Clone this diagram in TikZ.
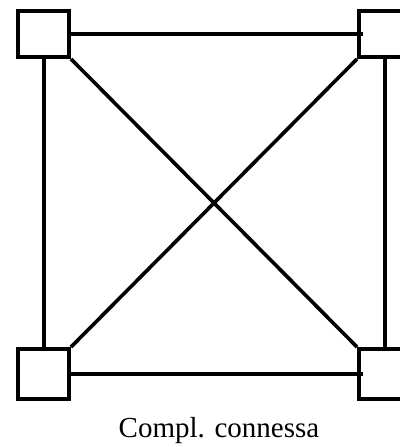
\documentclass[tikz,border=0pt]{standalone}
\usepackage{fontspec}
\setmainfont{Liberation Serif}
\usepackage{tikz}
\usetikzlibrary{positioning,calc}
\tikzset{
  vertexbox/.style={draw=black,line width=4pt,fill=white,inner sep=0pt,
    minimum width=51pt,minimum height=46pt},
  edge/.style={line width=4pt,draw=black},
  diagedge/.style={line width=3.6pt,draw=black},
  caption/.style={font=\fontsize{29}{32}\selectfont,inner sep=0pt,anchor=base}
}
\begin{document}
\begin{tikzpicture}[x=1pt,y=-1pt]
      \useasboundingbox (0,0) rectangle (399,447);
      \node[vertexbox] (tl) at (43.5,34) {};
      \node[vertexbox] (tr) at (384.5,34) {};
      \node[vertexbox, minimum height=50pt] (bl) at (43.5,374) {};
      \node[vertexbox, minimum height=50pt] (br) at (384.5,374) {};
      \node[caption] (cap) at (219,437) {Compl. connessa};

      \draw[edge] (tl.east) -- ([xshift=6pt]tr.west);
      \draw[edge] (bl.east) -- ([xshift=6pt]br.west);
      \draw[edge] (tl.south) -- (bl.north);
      \draw[edge] (tr.south) -- (br.north);
      \draw[diagedge] (tl.south east) -- (br.north west);
      \draw[diagedge] (bl.north east) -- (tr.south west);
    \end{tikzpicture}
\end{document}
